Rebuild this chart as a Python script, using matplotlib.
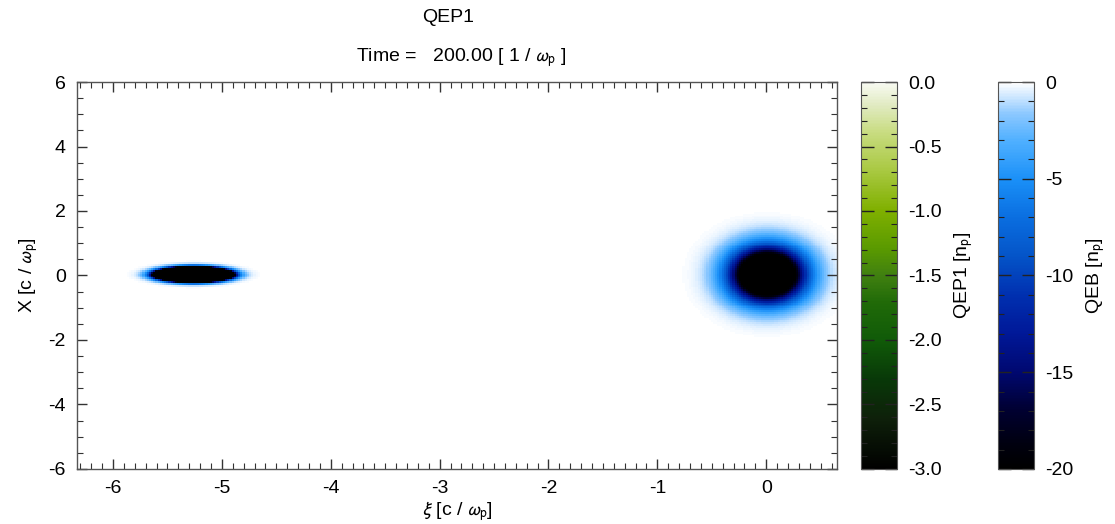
"""
Charge density snapshot of the witness/drive beam with two species colorbars
"""

import numpy as np
import matplotlib
matplotlib.use('Agg')
import matplotlib.pyplot as plt
from matplotlib.colors import LinearSegmentedColormap, Normalize
from matplotlib.cm import ScalarMappable
from matplotlib.ticker import MultipleLocator

plt.rcParams['font.family'] = ['Liberation Sans', 'DejaVu Sans']
plt.rcParams['mathtext.fontset'] = 'stixsans'

# Simulation time and plotted window
sim_time = 200.00
xi_range = [-6.33, 0.65]
x_range = [-6.0, 6.0]

# Bunch parameters: centre (xi, X), rms sizes (xi, X), peak density [n_p]
bunch_xi0 = [-5.27, 0.0]
bunch_x0 = [0.0, 0.0]
bunch_sig_xi = [0.145, 0.22]
bunch_sig_x = [0.10, 0.55]
bunch_peak = [-600.0, -40.0]

# Colour scale ranges of the two species
qep1_range = [-3.0, 0.0]
qeb_range = [-20.0, 0.0]

# Grid the bunch density on the simulation cells
dxi, dx = 0.02, 0.06
xi = np.arange(xi_range[0], xi_range[1], dxi)
xx = np.arange(x_range[0], x_range[1], dx)
XI, XX = np.meshgrid(xi, xx)
qeb = np.zeros_like(XI)
for c_xi, c_x, s_xi, s_x, peak in zip(bunch_xi0, bunch_x0, bunch_sig_xi, bunch_sig_x, bunch_peak):
    qeb += peak * np.exp(-0.5 * ((XI - c_xi) / s_xi) ** 2 - 0.5 * ((XX - c_x) / s_x) ** 2)

# Colour tables
blue_cmap = LinearSegmentedColormap.from_list('qeb', [
    (0.00, '#000000'), (0.06, '#00000e'), (0.15, '#000030'),
    (0.25, '#000870'), (0.35, '#001898'), (0.45, '#0030b0'),
    (0.55, '#0454c8'), (0.65, '#0a6ee0'), (0.75, '#1a90f8'),
    (0.85, '#50b0ff'), (0.92, '#8cc8ff'), (0.96, '#c8e4ff'),
    (1.00, '#ffffff')])
green_cmap = LinearSegmentedColormap.from_list('qep1', [
    (0.00, '#000000'), (0.13, '#0e200a'), (0.23, '#083808'),
    (0.33, '#105a08'), (0.43, '#206a08'), (0.50, '#408010'),
    (0.57, '#5a9a00'), (0.67, '#80b000'), (0.77, '#a8c840'),
    (0.87, '#c8dc80'), (0.94, '#e0eac0'), (1.00, '#f8faf2')])

fig = plt.figure(figsize=(11.15, 5.24), dpi=100)
ax = fig.add_axes([0.0691, 0.105, 0.6816, 0.7385])
cax1 = fig.add_axes([0.7722, 0.105, 0.0323, 0.7385])
cax2 = fig.add_axes([0.8951, 0.105, 0.0323, 0.7385])

ax.imshow(qeb, cmap=blue_cmap, vmin=qeb_range[0], vmax=qeb_range[1],
          extent=[xi[0], xi[-1] + dxi, xx[0], xx[-1] + dx],
          origin='lower', aspect='auto', interpolation='nearest')
ax.set_xlim(xi_range)
ax.set_ylim(x_range)

fs = 14
axis_color = '#555555'
for a in (ax, cax1, cax2):
    for sp in a.spines.values():
        sp.set_color(axis_color)
        sp.set_linewidth(1.0)

ax.xaxis.set_major_locator(MultipleLocator(1))
ax.xaxis.set_minor_locator(MultipleLocator(0.1))
ax.yaxis.set_major_locator(MultipleLocator(2))
ax.yaxis.set_minor_locator(MultipleLocator(0.5))
ax.tick_params(which='both', direction='in', top=True, right=True,
               color='#333333', labelsize=fs, pad=8)
ax.tick_params(which='major', length=7, width=1)
ax.tick_params(which='minor', length=4, width=0.8)
ax.xaxis.set_major_formatter(plt.FuncFormatter(lambda v, p: f'{v:g}'))
ax.yaxis.set_major_formatter(plt.FuncFormatter(lambda v, p: f'{v:g}'))

ax.set_xlabel(r'$\xi$ [c / $\omega_{\rm p}$]', fontsize=fs, labelpad=2)
ax.set_ylabel(r'X [c / $\omega_{\rm p}$]', fontsize=fs, labelpad=6)
fig.text(0.402, 0.967, 'QEP1', ha='center', va='center', fontsize=fs)
fig.text(0.414, 0.889, f'Time =   {sim_time:.2f} [ 1 / $\\omega_{{\\rm p}}$ ]',
         ha='center', va='center', fontsize=fs)

# Colorbars for the two species
cb1 = fig.colorbar(ScalarMappable(Normalize(*qep1_range), green_cmap), cax=cax1)
cb1.set_ticks(np.arange(qep1_range[0], qep1_range[1] + 0.01, 0.5))
cb1.ax.yaxis.set_major_formatter(plt.FuncFormatter(lambda v, p: f'{v:.1f}'))
cb1.ax.yaxis.set_minor_locator(MultipleLocator(0.1))
cb1.set_label(r'QEP1 [n$_{\rm p}$]', fontsize=fs, labelpad=8)

cb2 = fig.colorbar(ScalarMappable(Normalize(*qeb_range), blue_cmap), cax=cax2)
cb2.set_ticks(np.arange(qeb_range[0], qeb_range[1] + 0.1, 5))
cb2.ax.yaxis.set_major_formatter(plt.FuncFormatter(lambda v, p: f'{v:g}'))
cb2.ax.yaxis.set_minor_locator(MultipleLocator(1))
cb2.set_label(r'QEB [n$_{\rm p}$]', fontsize=fs, labelpad=8)

for cb in (cb1, cb2):
    cb.outline.set_edgecolor(axis_color)
    cb.ax.tick_params(which='both', direction='in', left=True, right=True,
                      color='#222222', labelsize=fs, pad=8)
    cb.ax.tick_params(which='major', length=9, width=1)
    cb.ax.tick_params(which='minor', length=4, width=0.8)

fig.savefig('out.png', dpi=100)
